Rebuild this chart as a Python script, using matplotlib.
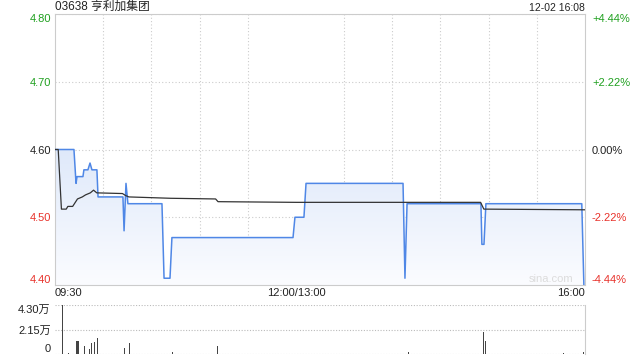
import numpy as np
import matplotlib.pyplot as plt
from matplotlib.colors import LinearSegmentedColormap

plt.rcParams['font.family'] = ['Liberation Sans', 'Noto Sans CJK SC', 'DejaVu Sans']

# minutes since 09:30 (lunch break removed: 0..150 morning, 150..330 afternoon)
price_t = [0, 11.8, 13.1, 13.7, 17.4, 18, 20.5, 21.8, 23, 26.1, 26.8, 42.3, 43, 44.2, 45.4,
           66.6, 67.9, 71.6, 72.8, 148.2, 149.4, 155, 156.3, 216.7, 217.9, 219.2,
           265.2, 265.8, 267.1, 268.3, 328, 329.3]
price_v = [4.60, 4.60, 4.55, 4.56, 4.56, 4.57, 4.57, 4.58, 4.57, 4.57, 4.53, 4.53, 4.48, 4.55, 4.52,
           4.52, 4.41, 4.41, 4.47, 4.47, 4.50, 4.50, 4.55, 4.55, 4.41, 4.52,
           4.52, 4.46, 4.46, 4.52, 4.52, 4.40]

avg_t = [0, 2, 4, 7, 8, 11, 14, 17, 19, 22, 24, 26, 42, 44, 46, 72, 100, 101.5, 150, 265, 267, 330]
avg_v = [4.60, 4.60, 4.512, 4.512, 4.516, 4.516, 4.527, 4.530, 4.533, 4.536, 4.540, 4.536,
         4.535, 4.532, 4.530, 4.528, 4.527, 4.523, 4.522, 4.522, 4.512, 4.511]

vol_t = [4.8, 8.3, 13.3, 14.3, 18.3, 21.4, 22.8, 24.7, 26.3, 43.2, 46.3, 73, 101, 220, 266.9, 268, 316.5, 329]
vol_v = [4.30, 0.10, 1.17, 1.17, 0.70, 0.41, 0.94, 1.05, 1.37, 0.53, 0.99, 0.15, 0.70, 0.15, 1.90, 1.14, 0.10, 0.20]

left_ticks = [4.40, 4.50, 4.60, 4.70, 4.80]
right_labels = ['-4.44%', '-2.22%', '0.00%', '+2.22%', '+4.44%']
tick_colors = ['#e8312a', '#e8312a', '#222222', '#1fa01f', '#1fa01f']

fig = plt.figure(figsize=(6.4, 3.6), dpi=100)
ax = fig.add_axes([55/640, 1-285/360, 530/640, 271/360])
axv = fig.add_axes([55/640, 1-354/360, 530/640, 49/360])

blue = '#4f87e6'
ax.plot(price_t, price_v, color=blue, lw=1.1, zorder=3)
ax.plot(avg_t, avg_v, color='#333333', lw=0.9, zorder=4)

# gradient fill under the price line
fill = ax.fill_between(price_t, price_v, 4.40, color='none')
cmap = LinearSegmentedColormap.from_list('g', ['#fbfcff', '#dfe9fa'])
grad = np.linspace(0, 1, 256).reshape(-1, 1)
img = ax.imshow(grad, cmap=cmap, aspect='auto', origin='lower',
                extent=[0, 330, 4.40, 4.60], zorder=2)
img.set_clip_path(fill.get_paths()[0], transform=ax.transData)

ax.set_xlim(0, 330)
ax.set_ylim(4.40, 4.80)
ax.set_xticks(np.arange(0, 331, 30), minor=True)
ax.grid(True, which='minor', axis='x', color='#cccccc', ls=(0, (1, 2)), lw=0.8)
ax.set_yticks(left_ticks)
ax.grid(True, which='major', axis='y', color='#cccccc', ls=(0, (1, 2)), lw=0.8)
ax.tick_params(which='both', length=0)
ax.set_yticklabels([f'{v:.2f}' for v in left_ticks], fontsize=8)
for lab, c in zip(ax.get_yticklabels(), tick_colors):
    lab.set_color(c)
ax.get_yticklabels()[0].set_va('bottom')
ax.get_yticklabels()[-1].set_va('top')
ax.set_xticks([0, 150, 330])
ax.set_xticklabels(['09:30', '12:00/13:00', '16:00'], fontsize=8, color='#222222')
xl = ax.get_xticklabels()
xl[0].set_ha('left')
xl[2].set_ha('right')
ax.tick_params(axis='x', pad=2)
ax.tick_params(axis='y', pad=3)
for s in ax.spines.values():
    s.set_color('#cccccc')
    s.set_linewidth(0.8)

ax2 = ax.twinx()
ax2.set_ylim(4.40, 4.80)
ax2.set_yticks(left_ticks)
ax2.set_yticklabels(right_labels, fontsize=8)
for lab, c in zip(ax2.get_yticklabels(), tick_colors):
    lab.set_color(c)
ax2.get_yticklabels()[0].set_va('bottom')
ax2.get_yticklabels()[-1].set_va('top')
ax2.tick_params(length=0, pad=5)
for s in ax2.spines.values():
    s.set_visible(False)

ax.text(573/640, 1-279/360, 'sina.com', transform=fig.transFigure, ha='right', va='center',
        fontsize=8, color='#dcdcdc', zorder=5)

fig.text(55/640, 1-7/360, '03638 亨利加集团', ha='left', va='center', fontsize=8.5, color='#222222')
fig.text(585/640, 1-8/360, '12-02 16:08', ha='right', va='center', fontsize=7.5, color='#222222')

# volume pane
axv.bar(vol_t, vol_v, width=0.7, color='#444444')
axv.set_xlim(0, 330)
axv.set_ylim(0, 4.30)
axv.set_xticks([])
axv.set_yticks([0, 2.15, 4.30])
axv.set_yticklabels(['0', '2.15万', '4.30万'], fontsize=8, color='#222222')
axv.get_yticklabels()[0].set_va('bottom')
axv.get_yticklabels()[2].set_va('top')
axv.tick_params(length=0, pad=3)
for y in [0, 2.15, 4.30]:
    axv.axhline(y, color='#bbbbbb', ls=(0, (1, 1.5)), lw=0.8, zorder=0)
for k in ['top', 'bottom', 'left']:
    axv.spines[k].set_visible(False)
axv.spines['right'].set_color('#cccccc')
axv.spines['right'].set_linewidth(0.8)

fig.savefig('out.png', dpi=100)
